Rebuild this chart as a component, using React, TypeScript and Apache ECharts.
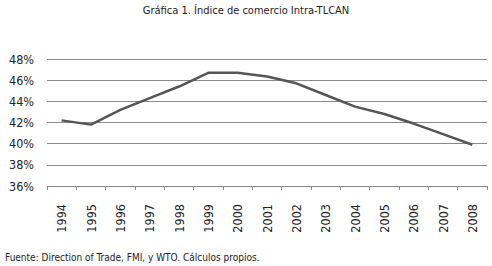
import React, { useEffect, useRef } from "react";
import * as echarts from "echarts";

const years = ["1994","1995","1996","1997","1998","1999","2000","2001","2002","2003","2004","2005","2006","2007","2008"];
const indice = [42.2, 41.8, 43.2, 44.3, 45.4, 46.7, 46.7, 46.35, 45.7, 44.6, 43.5, 42.8, 41.9, 40.9, 39.9];
const titleText = "Gráfica 1. Índice de comercio Intra-TLCAN";
const sourceText = "Fuente: Direction of Trade, FMI, y WTO. Cálculos propios.";

const FONT = "'DejaVu Sans Condensed', 'Liberation Sans Narrow', sans-serif";

export default function App() {
  const ref = useRef<HTMLDivElement>(null);
  useEffect(() => {
    const chart = echarts.init(ref.current!, null, { renderer: "svg" });
    chart.setOption({
      animation: false,
      backgroundColor: "#ffffff",
      title: {
        text: titleText,
        left: "center",
        top: 0,
        textStyle: { fontFamily: FONT, fontSize: 11, fontWeight: "normal", color: "#222" },
      },
      graphic: [
        {
          type: "text",
          left: 5,
          top: 252,
          style: { text: sourceText, fontFamily: FONT, fontSize: 10, fill: "#222" },
        },
      ],
      grid: { left: 47, right: 5, top: 59, bottom: 80 },
      xAxis: {
        type: "category",
        data: years,
        boundaryGap: true,
        axisLine: { lineStyle: { color: "#888", width: 1 } },
        axisTick: { show: true, length: 4, lineStyle: { color: "#888" } },
        axisLabel: { rotate: 90, margin: 18, fontFamily: FONT, fontSize: 12.5, color: "#222" },
      },
      yAxis: {
        type: "value",
        min: 36,
        max: 48,
        interval: 2,
        axisLine: { show: false },
        axisTick: { show: false },
        axisLabel: { formatter: "{value}%", margin: 13, fontFamily: FONT, fontSize: 12.5, color: "#222" },
        splitLine: { lineStyle: { color: "#8a8a8a", width: 1 } },
      },
      series: [
        {
          type: "line",
          data: indice,
          symbol: "none",
          lineStyle: { color: "#555555", width: 2.5 },
        },
      ],
    });
    return () => chart.dispose();
  }, []);
  return <div ref={ref} style={{ position: "absolute", left: 0, top: 0, width: 492, height: 266 }} />;
}
